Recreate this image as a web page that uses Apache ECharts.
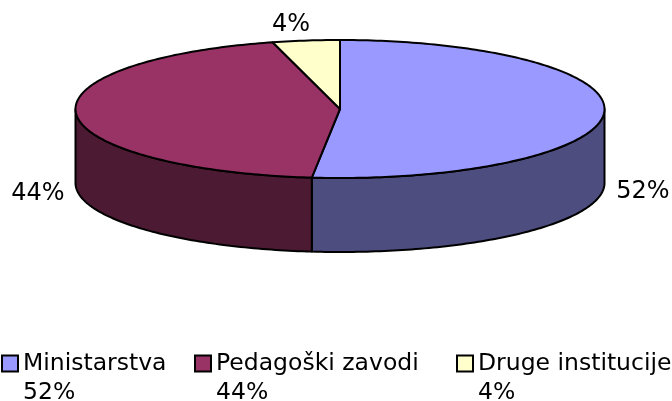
<!DOCTYPE html>
<html>
<head>
<meta charset="utf-8">
<style>
  html, body { margin: 0; padding: 0; background: #fff; }
  #chart { width: 672px; height: 401px; }
</style>
</head>
<body>
<div id="chart"></div>
<script src="https://cdn.jsdelivr.net/npm/echarts@6/dist/echarts.min.js"></script>
<script>
const categories = ['Ministarstva', 'Pedagoški zavodi', 'Druge institucije'];
const shares = [51.7, 44.2, 4.1];
const topColors = ['#9999FF', '#993366', '#FFFFCC'];
const sideColors = ['#4D4D80', '#4D1A33', '#80806A'];

// pie geometry, in pixels
const cx = 340, cy = 109, rx = 264.5, ry = 69, depth = 74;
const labelPos = [[643, 192], [38, 194], [291, 25]];
const legendLeft = [-4, 189, 451];
const fontFamily = '"DejaVu Sans", Verdana, sans-serif';

const total = shares.reduce((a, b) => a + b, 0);
const percent = v => Math.round(v / total * 100) + '%';

function rimPoint(deg, dy) {
  const t = deg * Math.PI / 180;
  return [cx + rx * Math.sin(t), cy - ry * Math.cos(t) + dy];
}

function arcPoints(from, to, dy) {
  const pts = [];
  const steps = Math.max(2, Math.ceil(Math.abs(to - from)));
  for (let i = 0; i <= steps; i++) {
    pts.push(rimPoint(from + (to - from) * i / steps, dy));
  }
  return pts;
}

function renderSlice(index) {
  const before = shares.slice(0, index).reduce((a, b) => a + b, 0);
  const start = before / total * 360;
  const end = (before + shares[index]) / total * 360;
  const children = [];

  // only the part of the rim facing us gets a wall
  const from = Math.max(start, 90), to = Math.min(end, 270);
  if (to > from) {
    children.push({
      type: 'polygon',
      shape: { points: arcPoints(from, to, 0).concat(arcPoints(to, from, depth)) },
      style: { fill: sideColors[index], stroke: '#000', lineWidth: 2, lineJoin: 'round' }
    });
  }
  children.push({
    type: 'polygon',
    shape: { points: [[cx, cy]].concat(arcPoints(start, end, 0)) },
    style: { fill: topColors[index], stroke: '#000', lineWidth: 2, lineJoin: 'round' }
  });
  children.push({
    type: 'text',
    x: labelPos[index][0],
    y: labelPos[index][1],
    style: {
      text: percent(shares[index]),
      fill: '#000',
      font: '24px ' + fontFamily,
      align: 'center',
      verticalAlign: 'middle'
    }
  });
  return { type: 'group', children };
}

const chart = echarts.init(document.getElementById('chart'), null, { renderer: 'canvas' });
chart.setOption({
  animation: false,
  backgroundColor: '#fff',
  legend: categories.map((name, i) => ({
    left: legendLeft[i],
    top: 315,
    icon: 'rect',
    itemWidth: 16,
    itemHeight: 16,
    itemGap: 0,
    data: [{
      name,
      itemStyle: { color: topColors[i], borderColor: '#000', borderWidth: 2 }
    }],
    selectedMode: false,
    textStyle: { color: '#000', fontSize: 23.5, fontFamily, lineHeight: 29 },
    // blank first line keeps the name level with the swatch
    formatter: n => '\n' + n + '\n' + percent(shares[categories.indexOf(n)])
  })),
  series: categories.map((name, i) => ({
    type: 'custom',
    name,
    coordinateSystem: 'none',
    silent: true,
    data: [shares[i]],
    itemStyle: { color: topColors[i] },
    renderItem: () => renderSlice(i)
  }))
});
</script>
</body>
</html>
